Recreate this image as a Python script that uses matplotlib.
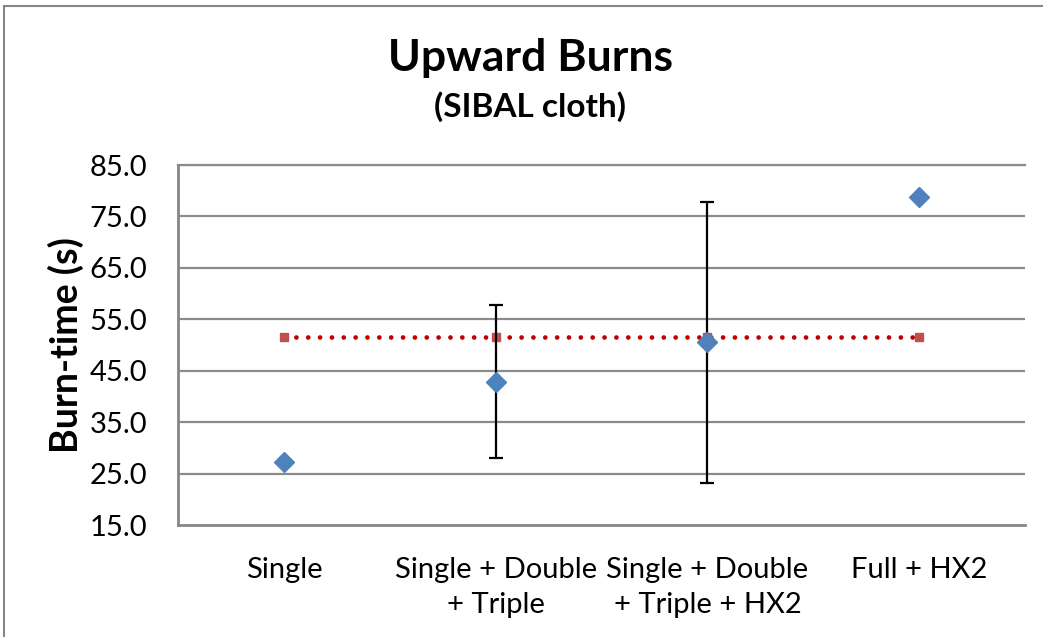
import numpy as np
import matplotlib.pyplot as plt
from matplotlib.patches import Rectangle

plt.rcParams['font.family'] = ['Lato', 'DejaVu Sans']

# Burn-time per layer configuration (SIBAL cloth, upward burns)
categories = ['Single', 'Single + Double\n+ Triple', 'Single + Double\n+ Triple + HX2', 'Full + HX2']
burn_time = [27.2, 42.8, 50.6, 78.8]
err_low = [np.nan, 28.0, 23.2, np.nan]
err_high = [np.nan, 57.8, 77.8, np.nan]
mean_line = [51.5, 51.5, 51.5, 51.5]
y_ticks = [15.0, 25.0, 35.0, 45.0, 55.0, 65.0, 75.0, 85.0]

W, H = 1043, 637
fig = plt.figure(figsize=(W / 100, H / 100), dpi=100)
ax = fig.add_axes([178 / W, 1 - 525 / H, (1025 - 178) / W, (525 - 165) / H])

# outer chart frame (clipped on the right and bottom)
fig.patches.append(Rectangle((4 / W, -0.1), 1.2, 1.1 - 5.5 / H, transform=fig.transFigure,
                             fill=False, edgecolor='#868686', linewidth=1.5))

x = np.arange(len(categories))
grid_col = '#8c8c8c'

for yt in y_ticks[1:]:
    ax.axhline(yt, color=grid_col, linewidth=1.6, zorder=1)

# average line: dotted red with square markers at each category
ax.plot(x, mean_line, color='#C00000', linewidth=3.4, linestyle=(0, (0.01, 2.5)),
        dash_capstyle='round', zorder=2)
ax.plot(x, mean_line, linestyle='none', marker='s', markersize=5.5,
        color='#C0504D', zorder=3)

bt = np.array(burn_time)
lower = bt - np.array(err_low)
upper = np.array(err_high) - bt
ax.errorbar(x, bt, yerr=[lower, upper], fmt='none', ecolor='black',
            elinewidth=1.6, capsize=5, capthick=1.6, zorder=4)
ax.plot(x, bt, linestyle='none', marker='D', markersize=10.5,
        color='#4F81BD', markeredgecolor='#4F81BD', zorder=5)

ax.set_xlim(-0.5, 3.5)
ax.set_ylim(15, 85)
ax.set_yticks(y_ticks)
ax.set_yticklabels([f'{v:.1f}' for v in y_ticks], fontsize=21)
ax.set_xticks(x)
ax.set_xticklabels(categories, fontsize=21, linespacing=1.45, va='top')
ax.tick_params(axis='both', length=0)
ax.tick_params(axis='y', pad=22)
ax.tick_params(axis='x', pad=23)

for side in ['top', 'right']:
    ax.spines[side].set_visible(False)
for side in ['left', 'bottom']:
    ax.spines[side].set_color('#868686')
    ax.spines[side].set_linewidth(2)
ax.axhline(85, color=grid_col, linewidth=1.6, zorder=1, clip_on=False)

ax.set_ylabel('Burn-time (s)', fontsize=27, fontweight='bold', labelpad=4)

fig.text(530 / W, 1 - 58 / H, 'Upward Burns', ha='center', va='center',
         fontsize=32, fontweight='bold')
fig.text(530 / W, 1 - 107 / H, '(SIBAL cloth)', ha='center', va='center',
         fontsize=24, fontweight='bold')

fig.savefig('out.png', dpi=100)
